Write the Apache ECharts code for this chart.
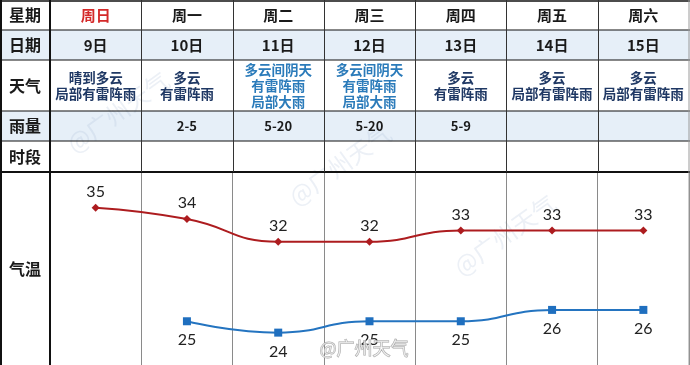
<!DOCTYPE html>
<html><head><meta charset="utf-8">
<script src="https://cdn.jsdelivr.net/npm/echarts@6/dist/echarts.min.js"></script>
<style>html,body{margin:0;padding:0;background:#fff}#c{width:690px;height:365px}</style>
</head><body><div id="c"></div>
<script>
const days = ['周日','周一','周二','周三','周四','周五','周六'];
const dates = ['9日','10日','11日','12日','13日','14日','15日'];
const weather = ['晴到多云\n局部有雷阵雨','多云\n有雷阵雨','多云间阴天\n有雷阵雨\n局部大雨','多云间阴天\n有雷阵雨\n局部大雨','多云\n有雷阵雨','多云\n局部有雷阵雨','多云\n局部有雷阵雨'];
const rain = ['','2-5','5-20','5-20','5-9','',''];
const period = ['','','','','','',''];
const highTemp = [35,34,32,32,33,33,33];
const lowTemp = [null,25,24,25,25,26,26];
const rowHeaders = ['星期','日期','天气','雨量','时段','气温'];

const CJK = '"Noto Sans CJK SC", sans-serif';
const L = 50, R = 689, TOP = 172, H = 365;
const colW = (R - L) / 7;
const rowLines = [30, 60, 111, 141];
const rowCenters = [15, 45, 86, 126, 156.5, 269];

const chart = echarts.init(document.getElementById('c'));

function rowAxis(data, center, extra) {
  return Object.assign({
    type: 'category', data: data, position: 'top', gridIndex: 0,
    axisLine: {show: false}, axisTick: {show: false},
    splitLine: {show: false},
    axisLabel: {
      interval: 0, margin: TOP - center, verticalAlign: 'middle', align: 'center',
      fontFamily: CJK, fontWeight: 'bold', fontSize: 15, color: '#1a1a1a'
    }
  }, extra || {});
}

const graphics = [];
[[30,60],[111,141]].forEach(([a,b]) => graphics.push({
  type: 'rect', z: -10, silent: true,
  shape: {x: 0, y: a, width: 690, height: b - a},
  style: {fill: '#e6eff8'}
}));
rowLines.forEach(y => graphics.push({type:'line', z: 10, shape:{x1:0,y1:y,x2:690,y2:y}, style:{stroke:'#111', lineWidth:1.2}}));
graphics.push({type:'line', z: 10, shape:{x1:0,y1:1,x2:690,y2:1}, style:{stroke:'#111', lineWidth:1.5}});
graphics.push({type:'line', z: 10, shape:{x1:0,y1:TOP,x2:690,y2:TOP}, style:{stroke:'#111', lineWidth:2}});
for (let i = 1; i < 7; i++) {
  const x = Math.round(L + colW * i) + 0.5;
  graphics.push({type:'line', z: 10, shape:{x1:x,y1:0,x2:x,y2:TOP}, style:{stroke:'#333', lineWidth:1}});
}
graphics.push({type:'line', z: 10, shape:{x1:1,y1:0,x2:1,y2:H}, style:{stroke:'#111', lineWidth:2}});
graphics.push({type:'line', z: 10, shape:{x1:L,y1:0,x2:L,y2:H}, style:{stroke:'#111', lineWidth:2}});
graphics.push({type:'line', z: 10, shape:{x1:R,y1:0,x2:R,y2:H}, style:{stroke:'#9a9a9a', lineWidth:1}});
rowHeaders.forEach((t, i) => graphics.push({
  type: 'text', z: 20, x: 25, y: rowCenters[i],
  style: {text: t, fill: '#1a1a1a', font: 'bold 16px ' + CJK, align: 'center', verticalAlign: 'middle'}
}));
[[118,112],[340,165],[505,235]].forEach(([x,y]) => graphics.push({
  type: 'text', z: -5, x: x, y: y, rotation: 0.62, silent: true,
  style: {text: '@广州天气', fill: 'rgba(160,180,210,0.2)', font: '24px ' + CJK, align: 'center', verticalAlign: 'middle'}
}));
graphics.push({
  type: 'text', z: 30, x: 364, y: 348,
  style: {text: '@广州天气', fill: 'rgba(255,255,255,0.6)', stroke: '#a8a8a8', lineWidth: 1, font: '18px ' + CJK, align: 'center', verticalAlign: 'middle'}
});

const option = {
  animation: false,
  backgroundColor: '#fff',
  grid: {left: L, right: 690 - R, top: TOP, bottom: 0, containLabel: false},
  xAxis: [
    rowAxis(days, rowCenters[0], {
      splitLine: {show: true, lineStyle: {color: '#8a8a8a', width: 1}},
      axisLabel: {
        interval: 0, margin: TOP - rowCenters[0], verticalAlign: 'middle', align: 'center',
        fontFamily: CJK, fontWeight: 'bold', fontSize: 15, color: '#1a1a1a',
        formatter: (v, i) => i === 0 ? '{red|' + v + '}' : v,
        rich: {red: {color: '#d42a2a', fontFamily: CJK, fontWeight: 'bold', fontSize: 15}}
      }
    }),
    rowAxis(dates, rowCenters[1]),
    rowAxis(weather, rowCenters[2], {
      axisLabel: {
        interval: 0, margin: TOP - rowCenters[2], verticalAlign: 'middle', align: 'center',
        fontFamily: CJK, fontWeight: 'bold', fontSize: 13.5, lineHeight: 16, color: '#1f3864',
        formatter: (v, i) => (i === 2 || i === 3) ? v.split('\n').map(s => '{b|' + s + '}').join('\n') : v,
        rich: {b: {color: '#2b7bba', fontFamily: CJK, fontWeight: 'bold', fontSize: 13.5, lineHeight: 16}}
      }
    }),
    rowAxis(rain, rowCenters[3], {
      axisLabel: {
        interval: 0, margin: TOP - rowCenters[3], verticalAlign: 'middle', align: 'center',
        fontFamily: CJK, fontWeight: 'bold', fontSize: 13, color: '#1a1a1a'
      }
    }),
    rowAxis(period, rowCenters[4])
  ],
  yAxis: {type: 'value', min: 21.15, max: 38.14, show: false, splitLine: {show: false}},
  graphic: graphics,
  series: [
    {
      name: '最高', type: 'line', xAxisIndex: 0, data: highTemp, smooth: true,
      symbol: 'diamond', symbolSize: 8,
      lineStyle: {color: '#ad1c1f', width: 2},
      itemStyle: {color: '#ad1c1f'},
      label: {show: true, position: 'top', distance: 4, fontFamily: 'Lato, sans-serif', fontSize: 16, color: '#222'}
    },
    {
      name: '最低', type: 'line', xAxisIndex: 0, data: lowTemp, smooth: true,
      symbol: 'rect', symbolSize: 8,
      lineStyle: {color: '#2474c0', width: 2},
      itemStyle: {color: '#1f6fbf'},
      label: {show: true, position: 'bottom', distance: 7, fontFamily: 'Lato, sans-serif', fontSize: 16, color: '#222'}
    }
  ]
};
chart.setOption(option);
</script></body></html>
